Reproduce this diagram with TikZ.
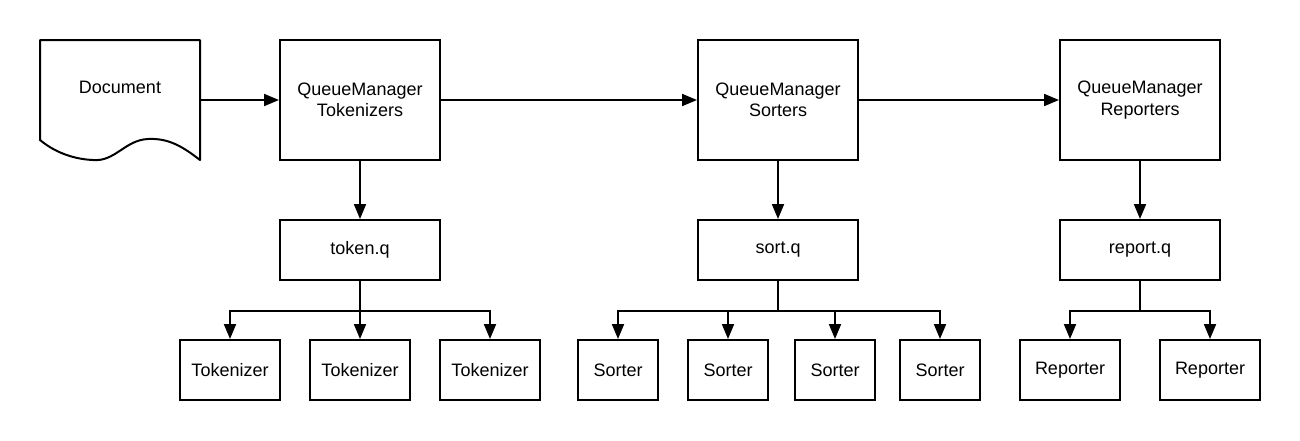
\documentclass[tikz,border=0pt]{standalone}
\usepackage{fontspec}
\setmainfont{Liberation Sans}
\usetikzlibrary{arrows.meta}
\begin{document}
\begin{tikzpicture}[x=1pt,y=-1pt,
  box/.style={draw=black,line width=2pt,fill=white,align=center,inner sep=0pt,font=\fontsize{18}{21.5}\selectfont},
  big/.style={box,minimum width=160pt,minimum height=120pt},
  queue/.style={box,minimum width=160pt,minimum height=60pt},
  worker/.style={box,minimum width=100pt,minimum height=60pt},
  sworker/.style={box,minimum width=80pt,minimum height=60pt},
  arr/.style={line width=2pt,-{Triangle[length=15pt,width=12pt]}}]
\useasboundingbox (0,0) rectangle (1300,440);
% Document shape
\draw[line width=2pt,fill=white,line join=round] (40,40) -- (200,40) -- (200,160)
  .. controls (182,146) and (168,138) .. (148,139)
  .. controls (125,140) and (115,162) .. (93,160)
  .. controls (70,159) and (52,150) .. (40,140) -- cycle;
\node[font=\fontsize{18}{21.5}\selectfont] (doc) at (120,87) {Document};
\coordinate (docE) at (200,100);
% Managers
\node[big] (qmt) at (360,100) {QueueManager\\Tokenizers};
\node[big] (qms) at (778,100) {QueueManager\\Sorters};
\node[big] (qmr) at (1140,100) {QueueManager\\Reporters};
% Queues
\node[queue] (tq) at (360,250) {token.q};
\node[queue] (sq) at (778,250) {sort.q};
\node[queue] (rq) at (1140,250) {report.q};
% Workers
\node[worker] (tok1) at (230,370) {Tokenizer};
\node[worker] (tok2) at (360,370) {Tokenizer};
\node[worker] (tok3) at (490,370) {Tokenizer};
\node[sworker] (sor1) at (618,370) {Sorter};
\node[sworker] (sor2) at (728,370) {Sorter};
\node[sworker] (sor3) at (835,370) {Sorter};
\node[sworker] (sor4) at (940,370) {Sorter};
\node[worker] (rep1) at (1070,370) {Reporter};
\node[worker] (rep2) at (1210,370) {Reporter};
% Main flow
\draw[arr] (docE) -- (qmt.west);
\draw[arr] (qmt.east) -- (qms.west);
\draw[arr] (qms.east) -- (qmr.west);
\draw[arr] (qmt.south) -- (tq.north);
\draw[arr] (qms.south) -- (sq.north);
\draw[arr] (qmr.south) -- (rq.north);
% Fan-out
\draw[arr] (tq.south) -- (tok2.north);
\draw[arr] (tq.south) -- ++(0,30) -| (tok1.north);
\draw[arr] (tq.south) -- ++(0,30) -| (tok3.north);
\draw[arr] (sq.south) -- ++(0,30) -| (sor1.north);
\draw[arr] (sq.south) -- ++(0,30) -| (sor2.north);
\draw[arr] (sq.south) -- ++(0,30) -| (sor3.north);
\draw[arr] (sq.south) -- ++(0,30) -| (sor4.north);
\draw[arr] (rq.south) -- ++(0,30) -| (rep1.north);
\draw[arr] (rq.south) -- ++(0,30) -| (rep2.north);
\end{tikzpicture}
\end{document}
